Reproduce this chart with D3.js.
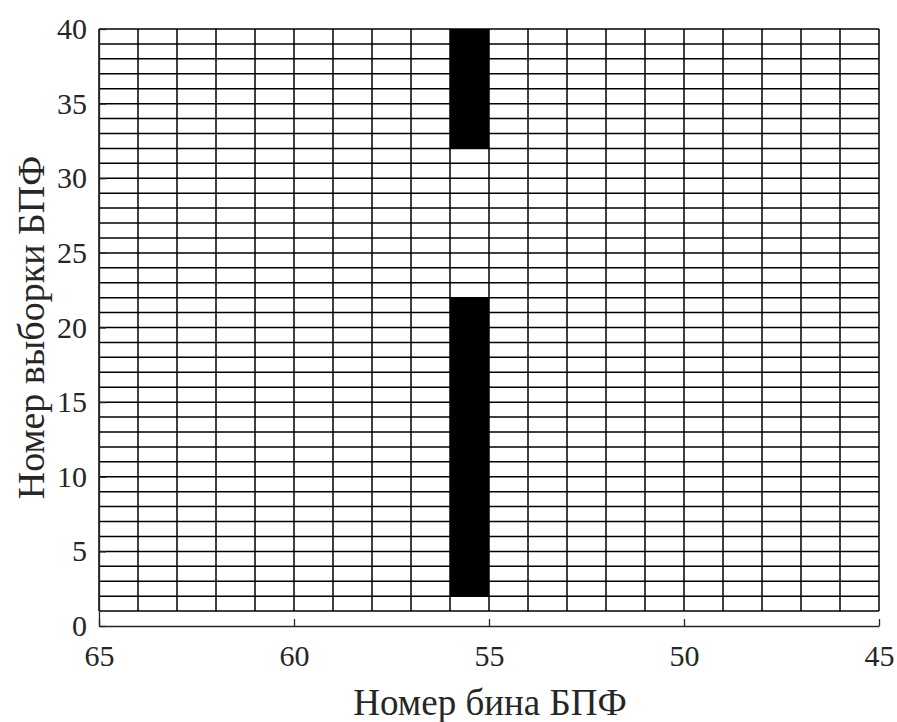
<!DOCTYPE html>
<html>
<head>
<meta charset="utf-8">
<style>
    body { margin: 0; background: #fff; }
    svg { display: block; font-family: 'Liberation Serif', 'Times New Roman', serif; }
</style>
</head>
<body>
<svg width="897" height="722"></svg>
<script src="https://d3js.org/d3.v7.min.js"></script>
<script>
    // bins of the FFT (x axis runs backwards, 65 -> 45)
    let binDomain = [65, 45]
    let sampleDomain = [0, 40]
    let xTicks = [65, 60, 55, 50, 45]
    let yTicks = [0, 5, 10, 15, 20, 25, 30, 35, 40]

    // mesh lines
    let bins = d3.range(45, 66)          // 45 .. 65
    let samples = d3.range(1, 41)        // 1 .. 40

    // filled cells: bin column 56..55, samples in these spans
    let activeBinFrom = 56
    let activeBinTo = 55
    let spanStart = [2, 32]
    let spanEnd = [22, 40]

    let svg = d3.select("svg")
    let mLeft = 99, mRight = 879, mTop = 29, mBottom = 626

    let x = d3.scaleLinear().domain(binDomain).range([mLeft, mRight])
    let y = d3.scaleLinear().domain(sampleDomain).range([mBottom, mTop])

    // black cells
    svg.append("g")
        .selectAll("rect")
        .data(spanStart.map((s, i) => ({ from: s, to: spanEnd[i] })))
        .join("rect")
        .attr("x", x(activeBinFrom))
        .attr("width", x(activeBinTo) - x(activeBinFrom))
        .attr("y", d => y(d.to))
        .attr("height", d => y(d.from) - y(d.to))
        .style("fill", "#000")

    let grid = svg.append("g")
        .style("stroke", "#000")
        .style("stroke-width", 1.5)

    grid.selectAll(".h")
        .data(samples)
        .join("line")
        .attr("class", "h")
        .attr("x1", x(65)).attr("x2", x(45))
        .attr("y1", d => y(d)).attr("y2", d => y(d))

    grid.selectAll(".v")
        .data(bins)
        .join("line")
        .attr("class", "v")
        .attr("x1", d => x(d)).attr("x2", d => x(d))
        .attr("y1", y(1)).attr("y2", y(40))

    // axes, ticks inward
    let xAxis = d3.axisBottom(x).tickValues(xTicks).tickSizeInner(-7).tickSizeOuter(0).tickPadding(19)
    let yAxis = d3.axisLeft(y).tickValues(yTicks).tickSizeInner(-7).tickSizeOuter(0).tickPadding(12)

    let gx = svg.append("g").attr("transform", `translate(0,${mBottom})`).call(xAxis)
    let gy = svg.append("g").attr("transform", `translate(${mLeft},0)`).call(yAxis)

    for (let g of [gx, gy]) {
        g.select(".domain").style("stroke", "#262626").style("stroke-width", 1.3)
        g.selectAll(".tick line").style("stroke", "#262626").style("stroke-width", 1.3)
        g.selectAll("text")
            .style("font-family", "'Liberation Serif', serif")
            .style("font-size", "30px")
            .style("fill", "#262626")
    }
    gx.selectAll("text").attr("dy", "0.71em")

    svg.append("text")
        .attr("x", 490)
        .attr("y", 715)
        .attr("text-anchor", "middle")
        .style("font-size", "37px")
        .style("fill", "#262626")
        .text("Номер бина БПФ")

    svg.append("text")
        .attr("transform", `translate(44,${(mTop + mBottom) / 2}) rotate(-90)`)
        .attr("text-anchor", "middle")
        .style("font-size", "38px")
        .style("fill", "#262626")
        .text("Номер выборки БПФ")
</script>
</body>
</html>
